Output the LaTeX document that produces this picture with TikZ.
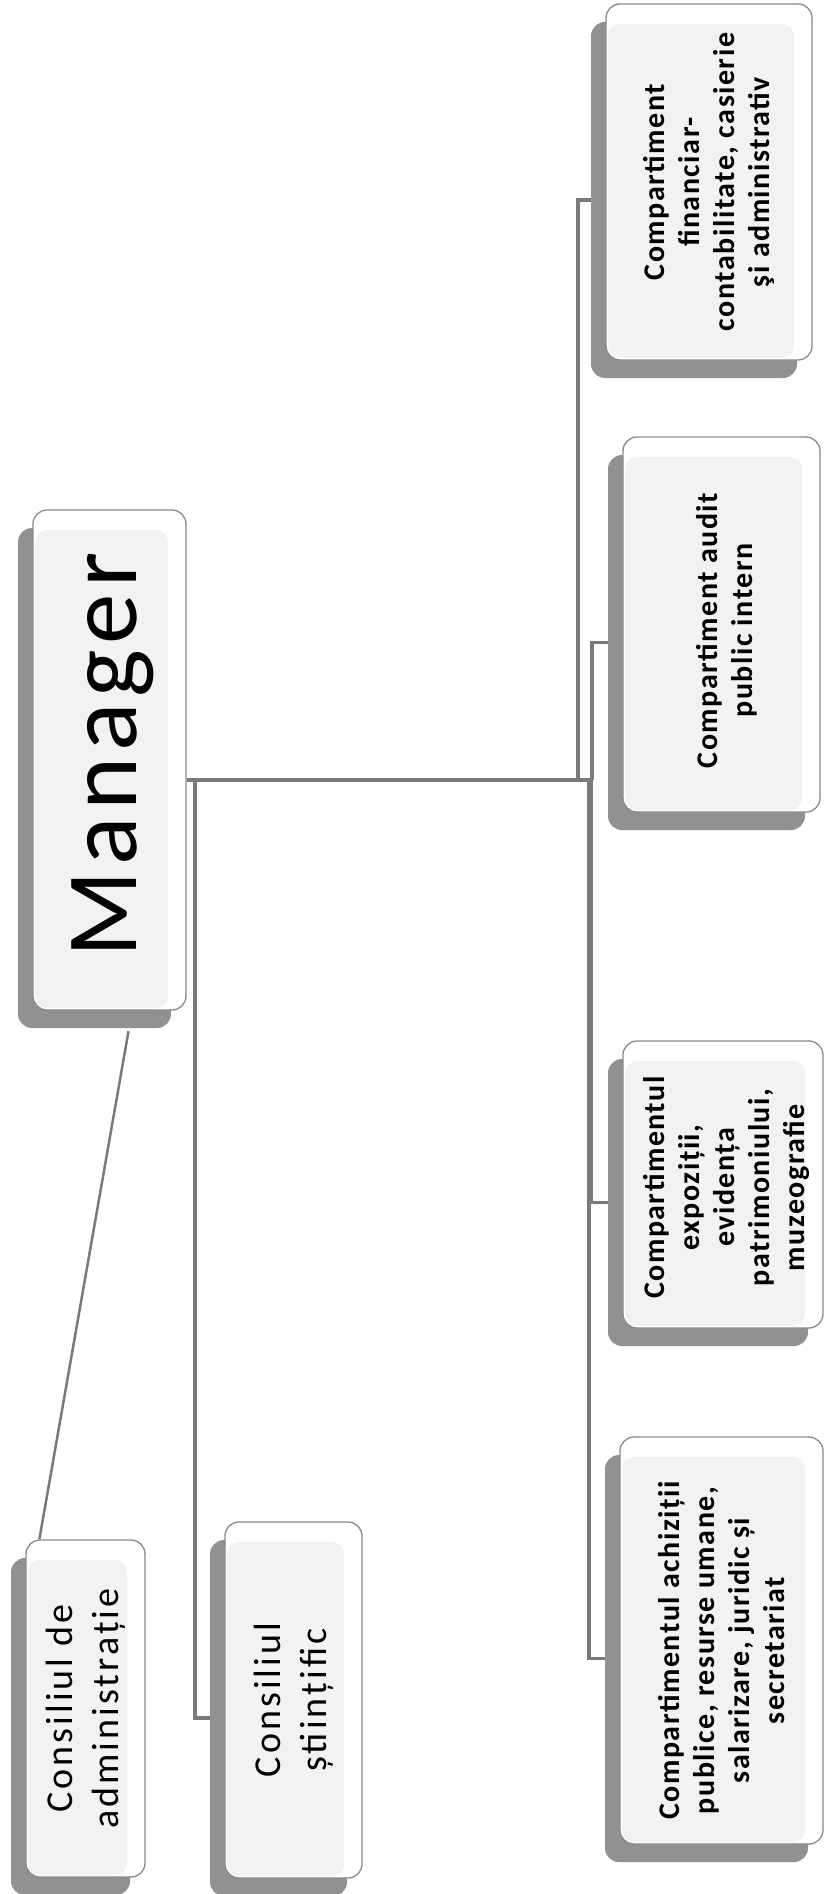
\documentclass[tikz,border=0pt]{standalone}
\usepackage{fontspec}
\setmainfont{Carlito}
\newfontfamily\lsfont[LetterSpace=8]{Carlito}
\newfontfamily\rsfont[LetterSpace=5]{Carlito}
\newfontfamily\mgfont[LetterSpace=6]{Carlito}
\usetikzlibrary{calc}
\definecolor{shadowgray}{HTML}{919191}
\definecolor{bordergray}{HTML}{8A8A8A}
\definecolor{innergray}{HTML}{F2F2F2}
\definecolor{linegray}{HTML}{7A7A7A}
\tikzset{
  shadowbox/.style={fill=shadowgray, draw=none, rounded corners=14pt, inner sep=0pt},
  frontbox/.style={fill=white, draw=bordergray, line width=1.3pt, rounded corners=14pt, inner sep=0pt},
  innerbox/.style={fill=innergray, draw=none, rounded corners=12pt, inner sep=0pt},
  conn/.style={draw=linegray, line width=3.5pt},
  thinconn/.style={draw=linegray, line width=2.5pt},
  rtext/.style={rotate=90, align=center, inner sep=0pt, font=\rsfont\bfseries\fontsize{30}{35}\selectfont},
  ltext/.style={rotate=90, align=center, inner sep=0pt, font=\lsfont\fontsize{38}{46}\selectfont},
  mtext/.style={rotate=90, align=center, inner sep=0pt, font=\mgfont\fontsize{101}{120}\selectfont}
}
% name, x1, y1, x2, y2
\newcommand\orgbox[5]{%
  \node[shadowbox, minimum width={(#4-#2)*1pt}, minimum height={(#5-#3)*1pt}] (s#1) at ({(#2+#4)/2-15},{(#3+#5)/2+18}) {};
  \node[frontbox, minimum width={(#4-#2)*1pt}, minimum height={(#5-#3)*1pt}] (#1) at ({(#2+#4)/2},{(#3+#5)/2}) {};
  \node[innerbox, minimum width={(#4-#2-20)*1pt}, minimum height={(#5-#3-22)*1pt}] (i#1) at ({(#2+#4)/2-8},{(#3+#5)/2+9}) {};
}
\begin{document}
\begin{tikzpicture}[x=1pt, y=-1pt]
\useasboundingbox[fill=white] (0,0) rectangle (826,1894);

% boxes
\orgbox{M}{33}{510}{186}{1010}
\orgbox{A}{606}{4}{812}{360}
\orgbox{B}{623}{437}{820}{812}
\orgbox{C}{623}{1041}{823}{1328}
\orgbox{D}{620}{1437}{823}{1844}
\orgbox{CdA}{26}{1540}{145}{1877}
\orgbox{CS}{225}{1522}{362}{1878}

% texts
\node[mtext] (tM) at ($(M.center)+(3,-5)$) {Manager};
\node[rtext] (tA) at (A.center) {Compartiment\\financiar-\\contabilitate, casierie\\şi administrativ};
\node[rtext] (tB) at ($(B.center)+(5,6)$) {Compartiment audit\\public intern};
\node[rtext] (tC) at ($(C.center)+(3,3)$) {Compartimentul\\expoziții,\\evidența\\patrimoniului,\\muzeografie};
\node[rtext] (tD) at ($(D.center)+(0,10)$) {Compartimentul achiziții\\publice, resurse umane,\\salarizare, juridic și\\secretariat};
\node[ltext] (tCdA) at (CdA.center) {Consiliul de\\administrație};
\node[ltext] (tCS) at (CS.center) {Consiliul\\științific};

% connector junctions
\coordinate (hubL) at (195,780);
\coordinate (hubA) at (578,780);
\coordinate (hubB) at (592,780);
\coordinate (hubC) at (591,780);
\coordinate (hubD) at (589,780);
\coordinate (mStart) at (M.east |- hubL);

% connectors
\draw[conn] (mStart) -- (hubB);
\draw[conn] (hubA) |- (sA.west);
\draw[conn] (hubB) |- (sB.west);
\draw[conn] (hubC) |- (sC.west);
\draw[conn] (hubD) |- (sD.west);
\draw[conn] (hubL) |- (sCS.west);
\draw[thinconn] ($(sM.south)+(34,3)$) -- ($(CdA.north west)+(14,0)$);
\end{tikzpicture}
\end{document}
